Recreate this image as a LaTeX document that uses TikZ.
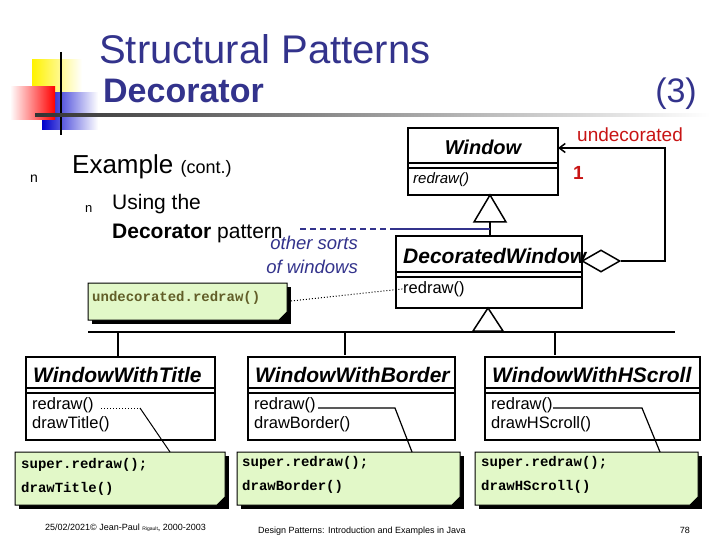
\documentclass[tikz,border=0pt]{standalone}
\usepackage{fontspec}
\setmainfont{Liberation Sans}
\newfontfamily\monof{Liberation Mono}
\usetikzlibrary{arrows.meta,shapes.geometric}
\definecolor{navy}{RGB}{51,51,140}
\definecolor{notegreen}{RGB}{226,248,200}
\definecolor{udred}{RGB}{200,20,20}
\begin{document}
\begin{tikzpicture}[x=1pt,y=-1pt,
  box/.style={draw,line width=1.5pt,fill=white},
  cname/.style={font=\fontsize{21}{22}\selectfont\bfseries\itshape,anchor=west,inner sep=0pt},
  meth/.style={font=\fontsize{16.5}{19}\selectfont,anchor=north west,align=left,inner sep=0pt},
  note/.style={font=\monof\fontsize{14}{24}\selectfont\bfseries,anchor=north west,align=left,inner sep=0pt},
  gen/.style={draw,line width=1.5pt,fill=white}]
\useasboundingbox (0,0) rectangle (720,540);
\fill[white] (0,0) rectangle (720,540);
% logo
\shade[left color=yellow!90!orange,right color=white] (32,60) rectangle (82,108);
\shade[left color=blue!80!black,right color=white] (42,93) rectangle (98,130);
\shade[right color=red,left color=white] (10,87) rectangle (55,120);
\draw[line width=1.5pt] (61,52) -- (61,135);
\shade[left color=black!80,right color=white] (35,114) rectangle (710,117);
\node[font=\fontsize{40}{44}\selectfont,text=navy,anchor=base west,inner sep=0] (title) at (99,64) {Structural Patterns};
\node[font=\fontsize{34}{38}\selectfont\bfseries,text=navy,anchor=base west,inner sep=0] (sub) at (103,103) {Decorator};
\node[font=\fontsize{34}{38}\selectfont,text=navy,anchor=base east,inner sep=0] (num) at (697,103) {(3)};
% bullets
\node[font=\fontsize{14}{14}\selectfont,anchor=base west,inner sep=0] (b1) at (30,183) {n};
\node[font=\fontsize{26}{28}\selectfont,anchor=base west,inner sep=0] (ex) at (72,174) {Example {\fontsize{18}{20}\selectfont(cont.)}};
\node[font=\fontsize{13}{13}\selectfont,anchor=base west,inner sep=0] (b2) at (85,212) {n};
\node[font=\fontsize{21}{23}\selectfont,anchor=base west,inner sep=0] (u1) at (112,210) {Using the};
\node[font=\fontsize{21}{23}\selectfont,anchor=base west,inner sep=0] (u2) at (112,238) {\textbf{Decorator} pattern};
\node[font=\fontsize{18.5}{24}\selectfont\itshape,text=navy,anchor=north east,align=right,inner sep=0] (other) at (358,236) {other sorts\\of windows};
% Window
\draw[box] (408,128) rectangle (558,195);
\draw[line width=1.5pt] (408,163) -- (558,163) (408,168) -- (558,168);
\node[font=\fontsize{20}{22}\selectfont\bfseries\itshape] (win) at (483,147) {Window};
\node[meth,font=\fontsize{15}{18}\selectfont\itshape] (wr) at (413,172) {redraw()};
% triangle
\draw[gen] (490,195) -- (506,222) -- (474,222) -- cycle;
\draw[line width=1.5pt] (490,222) -- (490,236);
\draw[navy,line width=1.5pt,dash pattern=on 6pt off 4pt] (300,229) -- (390,229);
\draw[navy,line width=1.5pt] (390,229) -- (490,229);
% DecoratedWindow
\draw[box] (396,236) rectangle (582,308);
\draw[line width=1.5pt] (396,272) -- (582,272) (396,277) -- (582,277);
\node[font=\fontsize{21}{22}\selectfont\bfseries\itshape,anchor=west,inner sep=0] (dw) at (403,256) {DecoratedWindow};
\node[meth] (dr) at (403,281) {redraw()};
\node[draw,line width=1.5pt,fill=white,diamond,minimum width=38pt,minimum height=22pt,inner sep=0,aspect=1.7] (dia) at (601,261) {};
\coordinate (c1) at (665,261);
\coordinate (c2) at (665,148);
\coordinate (c3) at (558,148);
\draw[line width=1.5pt,-{Straight Barb[length=6pt,width=9pt]}] (dia.east) -- (c1) -- (c2) -- (c3);
\node[font=\fontsize{19}{21}\selectfont,text=udred,anchor=base west,inner sep=0] (und) at (577,142) {undecorated};
\node[font=\fontsize{19}{21}\selectfont\bfseries,text=udred,anchor=base west,inner sep=0] (one) at (573,180) {1};
% note undecorated.redraw()
\fill[black] (92,287) rectangle (291,324);
\draw[line width=1pt,fill=notegreen] (88,283) -- (287,283) -- (287,312) -- (279,320) -- (88,320) -- cycle;
\node[font=\monof\fontsize{14}{16}\selectfont\bfseries,text=olive!60!black,anchor=west,inner sep=0] (n0) at (92,298) {undecorated.redraw()};
\draw[line width=1pt,dotted] (291,301) -- (dr.west);
% lower triangle & tree
\draw[gen] (488,308) -- (503,331) -- (473,331) -- cycle;
\draw[line width=1.5pt] (88,332) -- (675,332);
\draw[line width=1.5pt] (118,332) -- (118,357) (345,332) -- (345,355) (555,332) -- (555,355);
% subclasses
\foreach \n/\xa/\xb/\nm/\mb in {t/26/215/WindowWithTitle/drawTitle(),b/248/455/WindowWithBorder/drawBorder(),h/485/700/WindowWithHScroll/drawHScroll()}{
  \draw[box] (\xa,357) rectangle (\xb,440);
  \draw[line width=1.5pt] (\xa,388) -- (\xb,388) (\xa,393) -- (\xb,393);
  \node[cname] (name\n) at (\xa+7,375) {\nm};
  \node[meth] (m\n) at (\xa+6,397) {redraw()\\\mb};
}
\foreach \n/\xa/\xb in {t/15/225,b/237/460,h/475/698}{
  \fill[black] (\xa+4,456) rectangle (\xb+4,509);
  \draw[line width=1pt,fill=notegreen] (\xa,452) -- (\xb,452) -- (\xb,497) -- (\xb-8,505) -- (\xa,505) -- cycle;
}
\node[note] (nt) at (21,458) {super.redraw();\\drawTitle()};
\node[note] (nb) at (242,456) {super.redraw();\\drawBorder()};
\node[note] (nh) at (481,456) {super.redraw();\\drawHScroll()};
\coordinate (kt) at (140,408); \coordinate (kb) at (395,408); \coordinate (kh) at (642,408);
\draw[line width=1pt,dotted] (101,408) -- (kt);
\draw[line width=1pt] (kt) -- (170,452);
\draw[line width=1.2pt] (318,408) -- (kb) -- (412,452);
\draw[line width=1.2pt] (553,408) -- (kh) -- (660,452);
% footer
\node[font=\fontsize{9}{10}\selectfont,anchor=base west,inner sep=0] (f1) at (45,530) {25/02/2021© Jean-Paul {\fontsize{5}{6}\selectfont Rigault}, 2000-2003};
\node[font=\fontsize{9}{10}\selectfont,anchor=base west,inner sep=0] (f2) at (258,533) {Design Patterns: Introduction and Examples in Java};
\node[font=\fontsize{9}{10}\selectfont,anchor=base east,inner sep=0] (f3) at (690,533) {78};
\end{tikzpicture}
\end{document}
